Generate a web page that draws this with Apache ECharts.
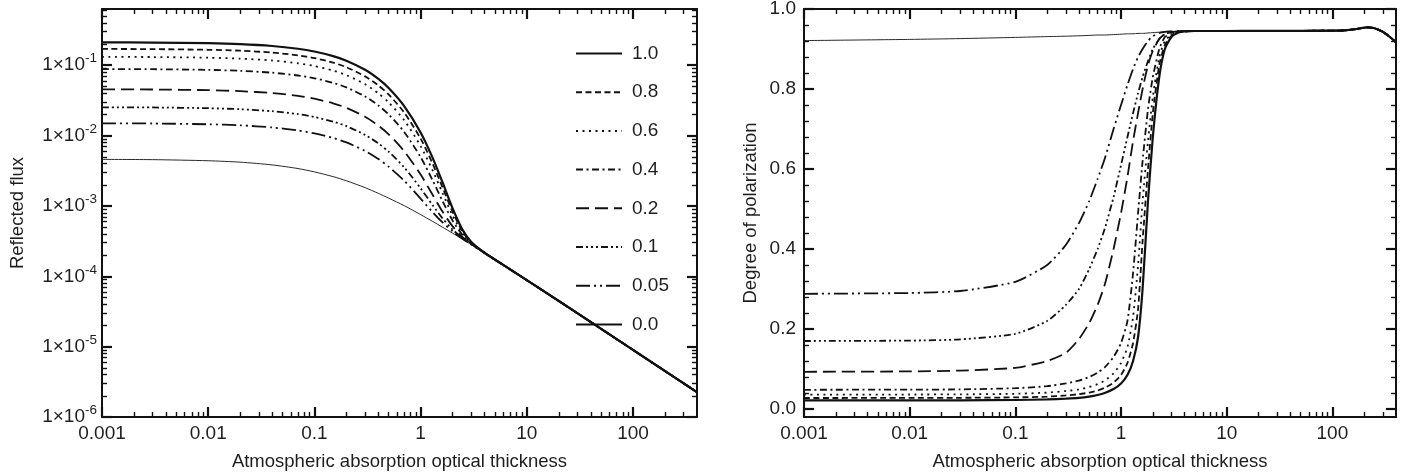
<!DOCTYPE html>
<html><head><meta charset="utf-8">
<script src="https://cdn.jsdelivr.net/npm/echarts@6/dist/echarts.min.js"></script>
<style>html,body{margin:0;padding:0;background:#fff}#c{width:1415px;height:475px}</style>
</head><body><div id="c"></div>
<script>
// ---------- data ----------
const seriesNames = ['1.0', '0.8', '0.6', '0.4', '0.2', '0.1', '0.05', '0.0'];

// Left panel: reflected flux vs optical thickness
const tauFlux = [0.001, 0.003, 0.01, 0.02, 0.04, 0.07, 0.1, 0.15, 0.2, 0.3, 0.4, 0.5, 0.7, 1, 1.3, 1.6, 2, 2.5, 3, 4, 6, 10, 20, 50, 100, 200, 400];
const flux_1_0 = [0.2114, 0.2101, 0.2056, 0.1996, 0.1878, 0.1716, 0.1567, 0.1349, 0.1162, 0.0862, 0.0639, 0.0475, 0.0263, 0.01108, 0.00479, 0.00221, 0.000924, 0.000449, 0.000308, 0.000216, 1.45e-4, 8.8e-5, 4.46e-5, 1.79e-5, 8.98e-6, 4.5e-6, 2.25e-6];
const flux_0_8 = [0.1705, 0.1695, 0.1658, 0.1609, 0.1514, 0.1384, 0.1264, 0.1088, 0.0937, 0.0695, 0.0516, 0.0384, 0.0213, 0.00904, 0.00396, 0.00187, 0.000823, 0.000426, 0.000303, 0.000216, 1.45e-4, 8.8e-5, 4.46e-5, 1.79e-5, 8.98e-6, 4.5e-6, 2.25e-6];
const flux_0_6 = [0.1316, 0.1308, 0.1280, 0.1242, 0.1168, 0.1067, 0.0975, 0.0839, 0.0722, 0.0537, 0.0398, 0.0297, 0.01655, 0.00709, 0.00317, 0.00155, 0.000726, 0.000405, 0.000298, 0.000215, 1.45e-4, 8.8e-5, 4.46e-5, 1.79e-5, 8.98e-6, 4.5e-6, 2.25e-6];
const flux_0_4 = [0.0883, 0.0878, 0.0859, 0.0833, 0.0783, 0.0715, 0.0653, 0.0562, 0.0484, 0.0360, 0.0268, 0.0200, 0.01126, 0.00493, 0.0023, 0.00119, 0.000618, 0.00038, 0.000292, 0.000215, 1.45e-4, 8.8e-5, 4.46e-5, 1.79e-5, 8.98e-6, 4.5e-6, 2.25e-6];
const flux_0_2 = [0.0455, 0.0452, 0.0442, 0.0428, 0.0402, 0.0367, 0.0334, 0.0288, 0.0248, 0.0185, 0.01385, 0.01043, 0.00601, 0.00279, 0.00143, 0.000838, 0.000512, 0.000357, 0.000287, 0.000215, 1.45e-4, 8.8e-5, 4.46e-5, 1.79e-5, 8.98e-6, 4.5e-6, 2.25e-6];
const flux_0_1 = [0.0252, 0.0251, 0.0245, 0.0237, 0.0222, 0.0202, 0.0184, 0.0158, 0.01364, 0.01024, 0.00774, 0.00591, 0.00354, 0.00178, 0.00102, 0.000671, 0.000461, 0.000345, 0.000285, 0.000215, 1.45e-4, 8.8e-5, 4.46e-5, 1.79e-5, 8.98e-6, 4.5e-6, 2.25e-6];
const flux_0_05 = [0.01496, 0.01486, 0.01448, 0.01399, 0.01305, 0.01183, 0.01076, 0.00925, 0.00799, 0.00605, 0.00464, 0.00361, 0.00228, 0.00127, 0.000812, 0.000587, 0.000436, 0.00034, 0.000283, 0.000215, 1.45e-4, 8.8e-5, 4.46e-5, 1.79e-5, 8.98e-6, 4.5e-6, 2.25e-6];
const flux_0_0 = [0.00459, 0.00455, 0.00439, 0.00419, 0.00383, 0.0034, 0.00305, 0.00261, 0.00228, 0.00182, 0.00151, 0.00129, 0.00101, 0.000753, 0.000602, 0.000501, 0.00041, 0.000334, 0.000282, 0.000215, 1.45e-4, 8.8e-5, 4.46e-5, 1.79e-5, 8.98e-6, 4.5e-6, 2.25e-6];

// Right panel: degree of polarization vs optical thickness
const tauPol = [0.001, 0.01, 0.03, 0.1, 0.2, 0.3, 0.4, 0.5, 0.6, 0.7, 0.85, 1, 1.15, 1.3, 1.45, 1.6, 1.8, 2, 2.3, 2.6, 3, 3.5, 4, 5, 7, 10, 20, 50, 100, 130, 170, 213, 250, 300, 350, 400];
const pol_1_0 = [0.0215, 0.0216, 0.0218, 0.0225, 0.024, 0.026, 0.028, 0.031, 0.035, 0.04, 0.05, 0.064, 0.085, 0.12, 0.18, 0.3, 0.52, 0.68, 0.83, 0.9, 0.93, 0.941, 0.944, 0.945, 0.945, 0.945, 0.9452, 0.9455, 0.9458, 0.9465, 0.950, 0.954, 0.952, 0.943, 0.930, 0.917];
const pol_0_8 = [0.0275, 0.0277, 0.028, 0.029, 0.031, 0.034, 0.037, 0.041, 0.046, 0.053, 0.066, 0.085, 0.115, 0.165, 0.25, 0.42, 0.6, 0.74, 0.86, 0.91, 0.933, 0.942, 0.944, 0.945, 0.945, 0.945, 0.9452, 0.9455, 0.9458, 0.9465, 0.950, 0.954, 0.952, 0.943, 0.930, 0.917];
const pol_0_6 = [0.036, 0.0362, 0.0366, 0.038, 0.041, 0.045, 0.049, 0.055, 0.062, 0.071, 0.089, 0.115, 0.155, 0.23, 0.36, 0.52, 0.67, 0.78, 0.88, 0.92, 0.936, 0.942, 0.944, 0.945, 0.945, 0.945, 0.9452, 0.9455, 0.9458, 0.9465, 0.950, 0.954, 0.952, 0.943, 0.930, 0.917];
const pol_0_4 = [0.048, 0.0485, 0.049, 0.052, 0.057, 0.064, 0.071, 0.08, 0.091, 0.104, 0.13, 0.165, 0.22, 0.34, 0.49, 0.62, 0.75, 0.83, 0.9, 0.93, 0.938, 0.943, 0.944, 0.945, 0.945, 0.945, 0.9452, 0.9455, 0.9458, 0.9465, 0.950, 0.954, 0.952, 0.943, 0.930, 0.917];
const pol_0_2 = [0.093, 0.094, 0.096, 0.103, 0.12, 0.14, 0.175, 0.215, 0.26, 0.31, 0.40, 0.49, 0.58, 0.67, 0.74, 0.80, 0.86, 0.895, 0.925, 0.937, 0.942, 0.944, 0.945, 0.945, 0.945, 0.945, 0.9452, 0.9455, 0.9458, 0.9465, 0.950, 0.954, 0.952, 0.943, 0.930, 0.917];
const pol_0_1 = [0.17, 0.171, 0.174, 0.188, 0.22, 0.26, 0.3, 0.35, 0.4, 0.45, 0.53, 0.61, 0.68, 0.74, 0.79, 0.83, 0.87, 0.9, 0.925, 0.937, 0.942, 0.944, 0.945, 0.945, 0.945, 0.945, 0.9452, 0.9455, 0.9458, 0.9465, 0.950, 0.954, 0.952, 0.943, 0.930, 0.917];
const pol_0_05 = [0.288, 0.29, 0.295, 0.318, 0.36, 0.41, 0.465, 0.52, 0.575, 0.625, 0.7, 0.76, 0.81, 0.85, 0.88, 0.9, 0.92, 0.932, 0.94, 0.943, 0.944, 0.945, 0.945, 0.945, 0.945, 0.945, 0.9452, 0.9455, 0.9458, 0.9465, 0.950, 0.954, 0.952, 0.943, 0.930, 0.917];
const pol_0_0 = [0.921, 0.924, 0.926, 0.929, 0.931, 0.932, 0.933, 0.934, 0.935, 0.935, 0.936, 0.937, 0.938, 0.938, 0.939, 0.939, 0.940, 0.941, 0.942, 0.943, 0.944, 0.944, 0.945, 0.945, 0.945, 0.945, 0.9452, 0.9455, 0.9458, 0.9465, 0.950, 0.954, 0.952, 0.943, 0.930, 0.917];

// Tick values and labels
const xTickValues = [0.001, 0.01, 0.1, 1, 10, 100];
const xTickLabels = ['0.001', '0.01', '0.1', '1', '10', '100'];
const fluxTickValues = [1e-6, 1e-5, 1e-4, 1e-3, 1e-2, 1e-1];
const fluxTickMantissa = ['1×10', '1×10', '1×10', '1×10', '1×10', '1×10'];
const fluxTickExponent = ['-6', '-5', '-4', '-3', '-2', '-1'];
const polTickValues = [0, 0.2, 0.4, 0.6, 0.8, 1.0];
const polTickLabels = ['0.0', '0.2', '0.4', '0.6', '0.8', '1.0'];

const fluxSeries = [flux_1_0, flux_0_8, flux_0_6, flux_0_4, flux_0_2, flux_0_1, flux_0_05, flux_0_0];
const polSeries = [pol_1_0, pol_0_8, pol_0_6, pol_0_4, pol_0_2, pol_0_1, pol_0_05, pol_0_0];

// ---------- styling ----------
const FONT = "'Liberation Sans', Arial, Helvetica, sans-serif";
const INK = '#111';
const TXT = '#1e1e1e';
const lineStyles = [
  { width: 2.2, type: 'solid' },
  { width: 1.8, type: [6, 3.5] },
  { width: 1.8, type: [2, 4.5] },
  { width: 1.8, type: [7, 3.5, 2, 3.5] },
  { width: 1.8, type: [13, 6] },
  { width: 1.8, type: [7, 3, 2, 3, 2, 3, 2, 3] },
  { width: 1.8, type: [14, 4, 2, 4, 2, 4] },
  { width: 0.9, type: 'solid' }
];

// minor tick positions (axis decoration)
function logMinor(lo, hi) {
  const out = [];
  for (let e = -7; e <= 3; e++) for (let m = 2; m <= 9; m++) {
    const v = m * Math.pow(10, e);
    if (v > lo && v < hi) out.push(+v.toPrecision(6));
  }
  return out;
}
const X_MIN = 0.001, X_MAX = 400, FLUX_MIN = 1e-6, FLUX_MAX = 0.63, POL_MIN = -0.02, POL_MAX = 1.0;
const xMinor = logMinor(X_MIN, X_MAX);
const fluxMinor = logMinor(FLUX_MIN, FLUX_MAX);
const polMinor = [];
for (let k = 1; k <= 25; k++) { if (k % 5 !== 0) polMinor.push(+(k * 0.04).toFixed(2)); }

const GL = { left: 102, top: 9, width: 595, height: 408 };
const GR = { left: 804, top: 9, width: 592, height: 408 };

function idxLog(vals, v) { return vals.findIndex(t => Math.abs(Math.log10(t) - Math.log10(v)) < 1e-6); }
function idxLin(vals, v) { return vals.findIndex(t => Math.abs(t - v) < 1e-6); }

const MAJOR = { inside: true, length: 10, lineStyle: { color: INK, width: 2.2 } };
const MINOR = { inside: true, length: 5, lineStyle: { color: INK, width: 1.4 } };

function axis(o) {
  const a = {
    type: o.type, gridIndex: o.grid, position: o.pos, min: o.min, max: o.max,
    logBase: 10, scale: true, silent: true,
    axisLine: { show: !!o.line, onZero: false, lineStyle: { color: INK, width: 2 } },
    axisTick: Object.assign({}, o.minor ? MINOR : MAJOR, { show: true, customValues: o.ticks }),
    splitLine: { show: false }, minorTick: { show: false }, minorSplitLine: { show: false },
    axisLabel: { show: false },
    axisPointer: { show: false }
  };
  if (o.type !== 'log') delete a.logBase;
  return a;
}

const xAxes = [];
const yAxes = [];
// left panel
xAxes.push(Object.assign(axis({ type: 'log', grid: 0, pos: 'bottom', min: X_MIN, max: X_MAX, line: true, ticks: xTickValues }), {
  name: 'Atmospheric absorption optical thickness', nameLocation: 'middle', nameGap: 35,
  nameTextStyle: { fontFamily: FONT, fontSize: 18.5, color: TXT },
  axisLabel: { show: true, customValues: xTickValues, margin: 7, fontFamily: FONT, fontSize: 19, color: TXT,
    formatter: v => { const i = idxLog(xTickValues, v); return i >= 0 ? xTickLabels[i] : ''; } }
}));
xAxes.push(axis({ type: 'log', grid: 0, pos: 'top', min: X_MIN, max: X_MAX, line: true, ticks: xTickValues }));
xAxes.push(axis({ type: 'log', grid: 1, pos: 'bottom', min: X_MIN, max: X_MAX, minor: true, ticks: xMinor }));
xAxes.push(axis({ type: 'log', grid: 1, pos: 'top', min: X_MIN, max: X_MAX, minor: true, ticks: xMinor }));
yAxes.push(Object.assign(axis({ type: 'log', grid: 0, pos: 'left', min: FLUX_MIN, max: FLUX_MAX, line: true, ticks: fluxTickValues }), {
  name: 'Reflected flux', nameLocation: 'middle', nameGap: 75, nameRotate: 90,
  nameTextStyle: { fontFamily: FONT, fontSize: 18.5, color: TXT },
  axisLabel: { show: true, customValues: fluxTickValues, margin: 5, fontFamily: FONT, fontSize: 19, color: TXT,
    formatter: v => { const i = idxLog(fluxTickValues, v); return i >= 0 ? '{b|' + fluxTickMantissa[i] + '}{s|' + fluxTickExponent[i] + '}' : ''; },
    rich: {
      b: { fontFamily: FONT, fontSize: 19, color: TXT, lineHeight: 27, verticalAlign: 'middle' },
      s: { fontFamily: FONT, fontSize: 13.5, color: TXT, lineHeight: 13, verticalAlign: 'top' }
    } }
}));
yAxes.push(axis({ type: 'log', grid: 0, pos: 'right', min: FLUX_MIN, max: FLUX_MAX, line: true, ticks: fluxTickValues }));
yAxes.push(axis({ type: 'log', grid: 1, pos: 'left', min: FLUX_MIN, max: FLUX_MAX, minor: true, ticks: fluxMinor }));
yAxes.push(axis({ type: 'log', grid: 1, pos: 'right', min: FLUX_MIN, max: FLUX_MAX, minor: true, ticks: fluxMinor }));
// right panel
xAxes.push(Object.assign(axis({ type: 'log', grid: 2, pos: 'bottom', min: X_MIN, max: X_MAX, line: true, ticks: xTickValues }), {
  name: 'Atmospheric absorption optical thickness', nameLocation: 'middle', nameGap: 35,
  nameTextStyle: { fontFamily: FONT, fontSize: 18.5, color: TXT },
  axisLabel: { show: true, customValues: xTickValues, margin: 7, fontFamily: FONT, fontSize: 19, color: TXT,
    formatter: v => { const i = idxLog(xTickValues, v); return i >= 0 ? xTickLabels[i] : ''; } }
}));
xAxes.push(axis({ type: 'log', grid: 2, pos: 'top', min: X_MIN, max: X_MAX, line: true, ticks: xTickValues }));
xAxes.push(axis({ type: 'log', grid: 3, pos: 'bottom', min: X_MIN, max: X_MAX, minor: true, ticks: xMinor }));
xAxes.push(axis({ type: 'log', grid: 3, pos: 'top', min: X_MIN, max: X_MAX, minor: true, ticks: xMinor }));
yAxes.push(Object.assign(axis({ type: 'value', grid: 2, pos: 'left', min: POL_MIN, max: POL_MAX, line: true, ticks: polTickValues }), {
  name: 'Degree of polarization', nameLocation: 'middle', nameGap: 44, nameRotate: 90,
  nameTextStyle: { fontFamily: FONT, fontSize: 18.5, color: TXT },
  axisLabel: { show: true, customValues: polTickValues, margin: 8, fontFamily: FONT, fontSize: 19, color: TXT,
    formatter: v => { const i = idxLin(polTickValues, v); return i >= 0 ? polTickLabels[i] : ''; } }
}));
yAxes.push(axis({ type: 'value', grid: 2, pos: 'right', min: POL_MIN, max: POL_MAX, line: true, ticks: polTickValues }));
yAxes.push(axis({ type: 'value', grid: 3, pos: 'left', min: POL_MIN, max: POL_MAX, minor: true, ticks: polMinor }));
yAxes.push(axis({ type: 'value', grid: 3, pos: 'right', min: POL_MIN, max: POL_MAX, minor: true, ticks: polMinor }));

const series = [];
seriesNames.forEach((name, i) => {
  series.push({
    name, type: 'line', xAxisIndex: 0, yAxisIndex: 0,
    data: tauFlux.map((t, j) => [t, fluxSeries[i][j]]),
    showSymbol: false, symbol: 'none', smooth: 0.25,
    lineStyle: Object.assign({ color: INK, cap: 'butt' }, lineStyles[i]),
    z: 10 - i, silent: true
  });
  series.push({
    name, type: 'line', xAxisIndex: 4, yAxisIndex: 4,
    data: tauPol.map((t, j) => [t, polSeries[i][j]]),
    showSymbol: false, symbol: 'none', smooth: 0.2,
    lineStyle: Object.assign({ color: INK, cap: 'butt' }, lineStyles[i]),
    z: 10 - i, silent: true
  });
});

const chart = echarts.init(document.getElementById('c'), null, { renderer: 'canvas' });
chart.setOption({
  animation: false,
  backgroundColor: '#fff',
  textStyle: { fontFamily: FONT },
  grid: [
    Object.assign({ containLabel: false, outerBoundsMode: 'none' }, GL),
    Object.assign({ containLabel: false, outerBoundsMode: 'none' }, GL),
    Object.assign({ containLabel: false, outerBoundsMode: 'none' }, GR),
    Object.assign({ containLabel: false, outerBoundsMode: 'none' }, GR)
  ],
  legend: {
    data: seriesNames, orient: 'vertical', left: 575, top: 44, padding: 0,
    itemWidth: 46, itemHeight: 14, itemGap: 19.7, selectedMode: false,
    itemStyle: { opacity: 0, borderWidth: 0 },
    textStyle: { fontFamily: FONT, fontSize: 19, color: TXT, padding: [0, 0, 0, 5] }
  },
  xAxis: xAxes,
  yAxis: yAxes,
  series
});
</script></body></html>
